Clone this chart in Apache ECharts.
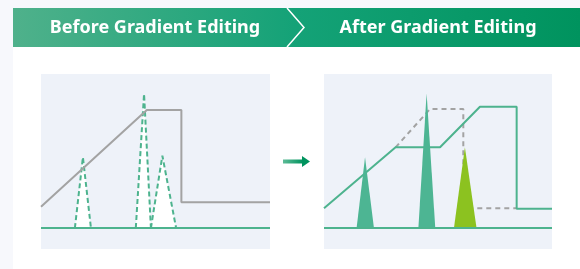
<!DOCTYPE html>
<html>
<head>
<meta charset="utf-8">
<script src="https://cdn.jsdelivr.net/npm/echarts@6/dist/echarts.min.js"></script>
<style>
  html, body { margin: 0; padding: 0; background: #ffffff; }
  #chart { width: 580px; height: 269px; }
</style>
</head>
<body>
<div id="chart"></div>
<script>
const panelTitles = ['Before Gradient Editing', 'After Gradient Editing'];

// gradient profile (x: time %, y: %B), both panels share the same scale
const gradientBefore = [[0, 12.2], [46.2, 67.4], [61.3, 67.4], [61.3, 14.7], [100, 14.7]];
const gradientAfter = [[0, 11.3], [31.4, 46.1], [50.9, 46.1], [68.4, 69.3], [84.5, 69.3], [84.5, 11.0], [100, 11.0]];
const gradientOriginal = [[31.4, 46.1], [46.5, 68], [61.1, 68], [61.1, 11.3], [84.5, 11.3]];

// peaks: [start, apex, end, height]
const peaksBefore = [[14.8, 18.3, 21.8, 40.4], [41.4, 45.0, 48.0, 76.6], [48.0, 53.0, 59.0, 41.3]];
const peaksAfter = [[14.3, 18.0, 21.9, 40.4], [41.4, 45.0, 48.8, 77.0], [57.0, 61.8, 66.9, 46.1]];
const peakColorsAfter = ['#4db593', '#4db593', '#8cc220'];

const green = '#4db38e';
const gray = '#a3a3a3';

const chart = echarts.init(document.getElementById('chart'));

function tri(p) {
  return [[p[0], 0], [p[1], p[3]], [p[2], 0]];
}

const series = [];

peaksBefore.forEach(p => {
  series.push({
    type: 'line', xAxisIndex: 0, yAxisIndex: 0, data: tri(p), symbol: 'none', silent: true,
    lineStyle: { color: green, width: 2, type: [5, 3] },
    areaStyle: { color: '#ffffff', opacity: 1 }, z: 2
  });
});
series.push({
  type: 'line', xAxisIndex: 0, yAxisIndex: 0, data: gradientBefore, symbol: 'none', silent: true,
  lineStyle: { color: gray, width: 2 }, z: 3
});

peaksAfter.forEach((p, i) => {
  series.push({
    type: 'line', xAxisIndex: 1, yAxisIndex: 1, data: tri(p), symbol: 'none', silent: true,
    lineStyle: { width: 0 },
    areaStyle: { color: peakColorsAfter[i], opacity: 1 }, z: 4
  });
});
series.push({
  type: 'line', xAxisIndex: 1, yAxisIndex: 1, data: gradientOriginal, symbol: 'none', silent: true,
  lineStyle: { color: gray, width: 2, type: [5, 4] }, z: 2
});
series.push({
  type: 'line', xAxisIndex: 1, yAxisIndex: 1, data: gradientAfter, symbol: 'none', silent: true,
  lineStyle: { color: green, width: 2 }, z: 3
});

// baselines
[0, 1].forEach(i => {
  series.push({
    type: 'line', xAxisIndex: i, yAxisIndex: i, data: [[0, 0], [100, 0]], symbol: 'none', silent: true,
    lineStyle: { color: green, width: 2 }, z: 5
  });
});

const axisX = i => ({ type: 'value', gridIndex: i, min: 0, max: 100, show: false });
const axisY = i => ({ type: 'value', gridIndex: i, min: -12, max: 88, show: false });

const titleFont = 'bold 18px "Noto Sans"';

chart.setOption({
  animation: false,
  backgroundColor: '#ffffff',
  grid: [
    { left: 41, top: 74, width: 229, height: 175, show: true, backgroundColor: '#eef2f9', borderWidth: 0 },
    { left: 324, top: 74, width: 228, height: 175, show: true, backgroundColor: '#eef2f9', borderWidth: 0 }
  ],
  xAxis: [axisX(0), axisX(1)],
  yAxis: [axisY(0), axisY(1)],
  series: series,
  graphic: [
    { type: 'rect', shape: { x: 0, y: 0, width: 580, height: 8 }, style: { fill: '#f7f8fc' }, silent: true },
    { type: 'rect', shape: { x: 0, y: 0, width: 13, height: 269 }, style: { fill: '#f7f8fc' }, silent: true },
    {
      type: 'rect', shape: { x: 13, y: 8, width: 567, height: 39 }, silent: true,
      style: {
        fill: new echarts.graphic.LinearGradient(0, 0, 1, 0, [
          { offset: 0, color: '#4fb18b' },
          { offset: 0.5, color: '#14a277' },
          { offset: 1, color: '#00935e' }
        ])
      }
    },
    {
      type: 'polyline', shape: { points: [[287, 8], [304, 27.5], [287, 47]] }, silent: true,
      style: { stroke: '#ffffff', lineWidth: 1.5, fill: null }
    },
    {
      type: 'text', x: 155, y: 27.5, silent: true,
      style: { text: panelTitles[0], fill: '#ffffff', font: titleFont, align: 'center', verticalAlign: 'middle' }
    },
    {
      type: 'text', x: 438, y: 27.5, silent: true,
      style: { text: panelTitles[1], fill: '#ffffff', font: titleFont, align: 'center', verticalAlign: 'middle' }
    },
    {
      type: 'rect', shape: { x: 283, y: 159.5, width: 20, height: 4 }, silent: true,
      style: {
        fill: new echarts.graphic.LinearGradient(0, 0, 1, 0, [
          { offset: 0, color: '#5dbb97' },
          { offset: 1, color: '#00935e' }
        ])
      }
    },
    {
      type: 'polygon', shape: { points: [[302, 156], [310, 161.5], [302, 167]] }, silent: true,
      style: { fill: '#00935e' }
    }
  ]
});
</script>
</body>
</html>
